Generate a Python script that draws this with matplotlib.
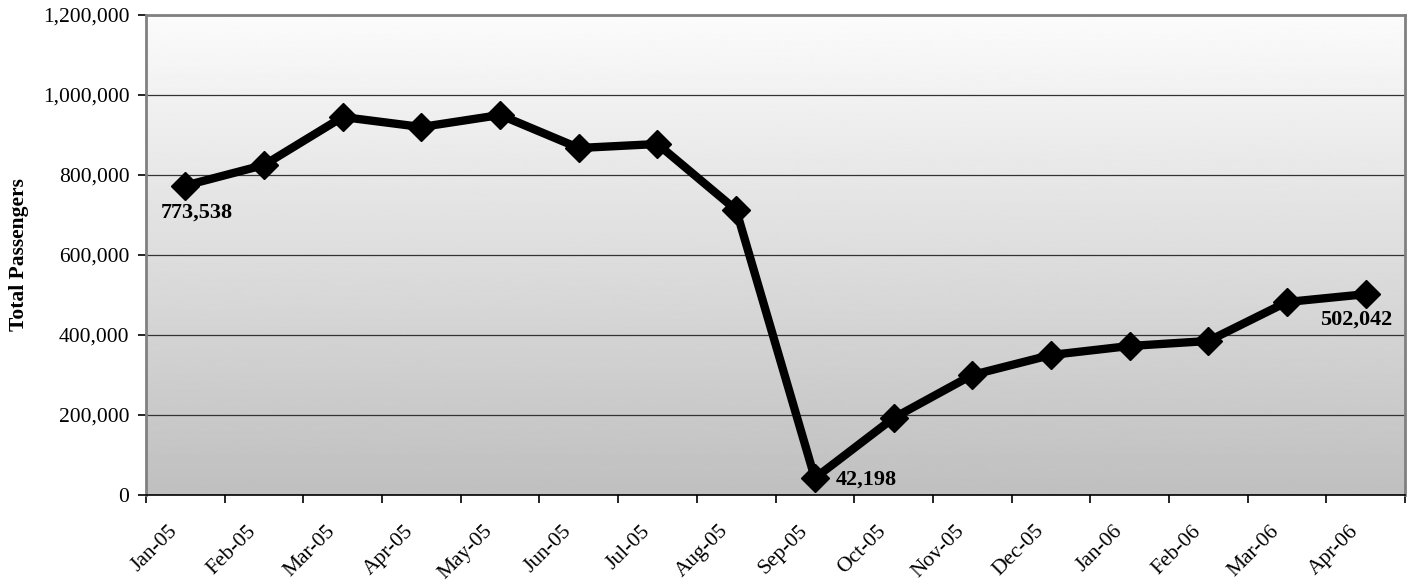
import numpy as np
import matplotlib.pyplot as plt
from matplotlib.ticker import FuncFormatter

# monthly passenger totals
months = ["Jan-05", "Feb-05", "Mar-05", "Apr-05", "May-05", "Jun-05", "Jul-05", "Aug-05",
          "Sep-05", "Oct-05", "Nov-05", "Dec-05", "Jan-06", "Feb-06", "Mar-06", "Apr-06"]
passengers = [773538, 825000, 945000, 920000, 950000, 867500, 877500, 712500,
              42198, 192500, 300000, 350000, 372500, 385000, 482500, 502042]

plt.rcParams["font.family"] = ["Liberation Serif", "DejaVu Serif"]

fig = plt.figure(figsize=(14.14, 5.85), dpi=100)
ax = fig.add_axes([146 / 1414, 1 - 495 / 585, (1405 - 146) / 1414, (495 - 15) / 585])

x = np.arange(len(months))
ax.set_xlim(-0.5, len(months) - 0.5)
ax.set_ylim(0, 1200000)

# gradient background, gray at bottom to near white at top
grad = np.linspace(0.75, 0.985, 256).reshape(-1, 1)
ax.imshow(grad, cmap="gray", vmin=0, vmax=1, aspect="auto", origin="lower",
          extent=[-0.5, len(months) - 0.5, 0, 1200000], zorder=0)

ax.set_yticks(range(0, 1200001, 200000))
ax.yaxis.set_major_formatter(FuncFormatter(lambda v, p: f"{int(v):,}"))
ax.grid(axis="y", color="#333333", linewidth=0.9, zorder=1)

ax.plot(x, passengers, color="black", linewidth=6, marker="D", markersize=14,
        zorder=3, solid_joinstyle="miter")

# category ticks sit at the boundaries, labels a bit left of centre
ax.set_xticks(np.arange(-0.5, len(months), 1))
ax.set_xticklabels([])
ax.set_xticks(x - 0.13, minor=True)
ax.set_xticklabels(months, minor=True, rotation=45, ha="right", va="center",
                   rotation_mode="anchor", fontsize=15.5)
ax.tick_params(axis="x", which="minor", length=0, pad=24)
ax.tick_params(axis="x", which="major", length=6, width=1.2, direction="out")
ax.tick_params(axis="y", length=6, width=1.2, labelsize=15.5, pad=6)

for s in ax.spines.values():
    s.set_color("#808080")
    s.set_linewidth(2)
ax.spines["bottom"].set_color("black")
ax.spines["bottom"].set_linewidth(1.2)

ax.set_ylabel("Total Passengers", fontsize=15.5, fontweight="bold")
ax.yaxis.set_label_coords(-0.093, 0.5)

ax.annotate(f"{passengers[0]:,}", (x[0], passengers[0]), xytext=(-18, -19.5),
            textcoords="offset points", fontsize=16, fontweight="bold", va="center")
ax.annotate(f"{passengers[8]:,}", (x[8], passengers[8]), xytext=(15, -1),
            textcoords="offset points", fontsize=16, fontweight="bold", va="center")
ax.annotate(f"{passengers[15]:,}", (x[15], passengers[15]), xytext=(-33, -18),
            textcoords="offset points", fontsize=16, fontweight="bold", va="center")

fig.savefig("out.png", dpi=100)
